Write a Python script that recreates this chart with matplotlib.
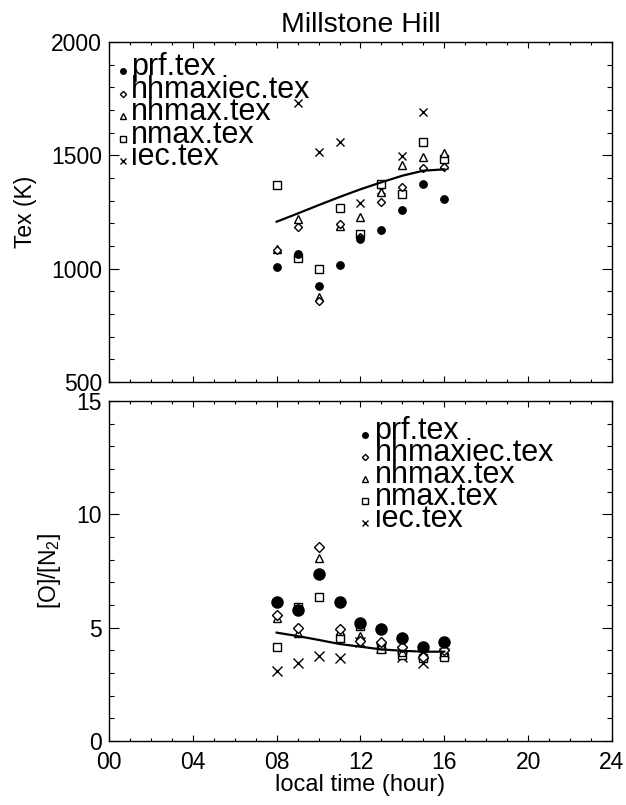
import matplotlib
matplotlib.use("Agg")
import matplotlib.pyplot as plt
import numpy as np

plt.rcParams['font.family'] = ['Liberation Sans', 'DejaVu Sans']
plt.rcParams['mathtext.default'] = 'regular'

# local time (hour)
hours = [8, 9, 10, 11, 12, 13, 14, 15, 16]

# exospheric temperature (K)
tex_prf = [1009, 1063, 922, 1018, 1131, 1171, 1259, 1375, 1309]
tex_hhmaxiec = [1082, 1182, 857, 1196, 1140, 1296, 1359, 1446, 1450]
tex_hhmax = [1085, 1219, 876, 1188, 1226, 1340, 1457, 1491, 1512]
tex_hmax = [1369, 1045, 1000, 1266, 1151, 1372, 1329, 1560, 1482]
tex_iec = [np.nan, 1732, 1516, 1560, 1288, 1347, 1497, 1690, 1457]
tex_model = [1207, 1243, 1280, 1316, 1350, 1381, 1410, 1432, 1438]

# [O]/[N2] ratio
on2_prf = [6.13, 5.76, 7.35, 6.15, 5.19, 4.94, 4.53, 4.13, 4.38]
on2_hhmaxiec = [5.54, 4.97, 8.57, 4.93, 4.40, 4.38, 4.16, 3.72, 4.00]
on2_hhmax = [5.44, 4.75, 8.06, 4.87, 4.65, 4.25, 3.94, 3.87, 3.94]
on2_hmax = [4.15, 5.91, 6.37, 4.53, 5.07, 4.04, 3.80, 3.65, 3.72]
on2_iec = [3.09, 3.43, 3.76, 3.65, 4.35, 4.10, 3.72, 3.43, 3.87]
on2_model = [4.78, 4.63, 4.46, 4.28, 4.16, 4.04, 3.98, 3.94, 3.94]

# legend labels as they appear on the plot
names = ['prf.tex', 'hhmaxiec.tex', 'nhmax.tex', 'nmax.tex', 'iec.tex']
markers = ['o', 'D', '^', 's', 'x']

fig = plt.figure(figsize=(6.26, 8.05), dpi=100)
ax1 = fig.add_axes([0.1741, 0.5255, 0.8035, 0.4224])
ax2 = fig.add_axes([0.1741, 0.0795, 0.8035, 0.4224])


def style(ax, labels):
    ax.set_xlim(0, 24)
    ax.set_xticks(np.arange(0, 25, 4))
    ax.set_xticks(np.arange(0, 25, 1), minor=True)
    ax.set_xticklabels(['%02d' % h for h in range(0, 25, 4)] if labels else [])
    ax.tick_params(axis='both', which='both', direction='in',
                   top=True, right=True, labelsize=16.5, width=0.8)
    ax.tick_params(axis='x', which='major', length=4.5, pad=7)
    ax.tick_params(axis='x', which='minor', length=2)
    ax.tick_params(axis='y', which='major', length=7, pad=5)
    ax.tick_params(axis='y', which='minor', length=3.5)
    for s in ax.spines.values():
        s.set_linewidth(1.0)


def marker_kw(m, size):
    if m == 'o':
        return dict(marker='o', color='black', markersize=size)
    if m == 'x':
        return dict(marker='x', color='black', markersize=size * 1.05,
                    markeredgewidth=1.0)
    return dict(marker=m, markerfacecolor='white', markeredgecolor='black',
                markersize=size * (0.75 if m == 'D' else 1.0),
                markeredgewidth=1.0)


def legend(ax, x0, y0, dy, tx):
    for i, (n, m) in enumerate(zip(names, markers)):
        y = y0 - i * dy
        kw = marker_kw(m, 4.2)
        if m == 'o':
            kw['markersize'] = 4
        ax.plot([x0], [y], linestyle='none', transform=ax.transAxes,
                clip_on=False, **kw)
        ax.text(x0 + tx, y - 0.012, n, transform=ax.transAxes,
                fontsize=22, va='baseline', ha='left')


# top panel: Tex
top_series = [tex_prf, tex_hhmaxiec, tex_hhmax, tex_hmax, tex_iec]
for vals, m in zip(top_series[::-1], markers[::-1]):
    ax1.plot(hours, vals, linestyle='none', **marker_kw(m, 6.0 if m != 'o' else 5.3))
ax1.plot(hours, tex_model, color='black', linewidth=1.6)
ax1.set_ylim(500, 2000)
ax1.set_yticks([500, 1000, 1500, 2000])
ax1.set_yticks(np.arange(500, 2001, 100), minor=True)
style(ax1, False)
ax1.set_ylabel('Tex (K)', fontsize=16.5, labelpad=10)
ax1.set_title('Millstone Hill', fontsize=20.5, pad=7)
legend(ax1, 0.028, 0.914, 0.066, 0.016)

# bottom panel: [O]/[N2]
bot_series = [on2_prf, on2_hhmaxiec, on2_hhmax, on2_hmax, on2_iec]
for vals, m in zip(bot_series[::-1], markers[::-1]):
    ax2.plot(hours, vals, linestyle='none', **marker_kw(m, 6.3 if m != 'o' else 8.0))
ax2.plot(hours, on2_model, color='black', linewidth=1.6)
ax2.set_ylim(0, 15)
ax2.set_yticks([0, 5, 10, 15])
ax2.set_yticks(np.arange(0, 16, 1), minor=True)
style(ax2, True)
ax2.set_ylabel('[O]/[N$_2$]', fontsize=16.5, labelpad=10)
ax2.set_xlabel('local time (hour)', fontsize=17, labelpad=0)
legend(ax2, 0.508, 0.9, 0.065, 0.02)

fig.savefig('out.png', dpi=100)
